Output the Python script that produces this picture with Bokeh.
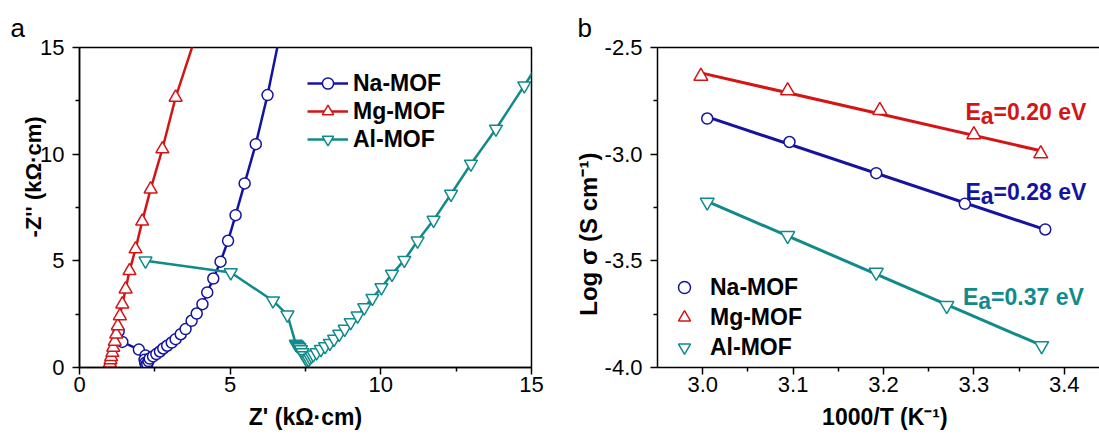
from bokeh.plotting import figure
from bokeh.models import FixedTicker, PrintfTickFormatter, LinearAxis, ColumnDataSource
from bokeh.layouts import row
from bokeh.embed import file_html
from bokeh.resources import INLINE
from bokeh.core.properties import value
import numpy as np

FONT = "Liberation Sans"
NA_C = "#1414A0"
MG_C = "#D41515"
AL_C = "#108A8A"
NB = "\u00a0"

# ---------------- Panel a: Nyquist data (kΩ·cm) ----------------
na_zre = [1.30, 1.42, 1.97, 2.19, 2.16, 2.18, 2.21, 2.25, 2.29, 2.33, 2.44, 2.55, 2.67, 2.78, 2.91,
          3.06, 3.19, 3.36, 3.52, 3.72, 3.89, 4.08, 4.24, 4.44, 4.68, 4.93, 5.18, 5.48, 5.85, 6.24, 6.68]
na_zim = [1.70, 1.20, 0.84, 0.56, 0.36, 0.22, 0.12, 0.16, 0.30, 0.42, 0.52, 0.63, 0.75, 0.89, 1.02,
          1.17, 1.33, 1.56, 1.80, 2.19, 2.53, 2.97, 3.52, 4.17, 4.96, 5.94, 7.14, 8.63, 10.47, 12.77, 15.8]

mg_zre = [0.98, 1.00, 1.01, 1.03, 1.05, 1.09, 1.12, 1.17, 1.22, 1.27, 1.34, 1.42, 1.53, 1.66, 1.86,
          2.08, 2.36, 2.75, 3.19, 3.85]
mg_zim = [0.04, 0.10, 0.20, 0.35, 0.50, 0.70, 0.94, 1.22, 1.56, 1.95, 2.42, 2.97, 3.67, 4.53, 5.55,
          6.85, 8.36, 10.24, 12.66, 15.5]

al_zre = [2.19, 5.02, 6.42, 6.90, 7.18, 7.22, 7.26, 7.30, 7.35, 7.40, 7.46, 7.52, 7.56, 7.60, 7.65,
          7.70, 7.76, 7.87, 8.01, 8.15, 8.31, 8.45, 8.62, 8.80, 9.00, 9.23, 9.45, 9.72, 10.02, 10.37,
          10.78, 11.22, 11.75, 12.33, 12.99, 13.82, 14.76, 15.5]
al_zim = [5.00, 4.45, 3.13, 2.47, 1.10, 1.05, 1.00, 0.94, 0.84, 0.70, 0.56, 0.42, 0.32, 0.38, 0.46,
          0.54, 0.60, 0.70, 0.85, 0.99, 1.14, 1.33, 1.57, 1.80, 2.11, 2.42, 2.81, 3.25, 3.75, 4.38,
          5.03, 5.94, 6.91, 8.13, 9.54, 11.18, 13.21, 14.85]

# ---------------- Panel b: Arrhenius data ----------------
na_invT = [3.005, 3.096, 3.192, 3.290, 3.379]
na_logs = [-2.833, -2.943, -3.089, -3.233, -3.353]
mg_invT = [2.998, 3.094, 3.196, 3.300, 3.374]
mg_logs = [-2.635, -2.702, -2.795, -2.909, -2.998]
al_invT = [3.005, 3.094, 3.192, 3.270, 3.375]
al_logs = [-3.225, -3.382, -3.554, -3.710, -3.898]
ea_values = [0.20, 0.28, 0.37]

labels = ["Na-MOF", "Mg-MOF", "Al-MOF"]


def style_axes(p):
    p.background_fill_color = "white"
    p.border_fill_color = "white"
    p.xgrid.visible = False
    p.ygrid.visible = False
    for ax in (p.xaxis[0], p.yaxis[0]):
        ax.axis_line_width = 1.5
        ax.axis_line_color = "black"
        ax.major_tick_line_width = 1.5
        ax.minor_tick_line_width = 1.5
        ax.major_tick_out = 7
        ax.major_tick_in = 0
        ax.minor_tick_out = 4
        ax.minor_tick_in = 0
        ax.major_label_text_font = FONT
        ax.major_label_text_font_size = "22px"
        ax.major_label_text_color = "black"
        ax.axis_label_text_font = FONT
        ax.axis_label_text_font_style = "bold"
        ax.axis_label_text_color = "black"
    p.xaxis[0].major_label_standoff = 2
    p.xaxis[0].axis_label_standoff = 9
    p.xaxis[0].axis_label_text_font_size = "23px"
    p.yaxis[0].major_label_standoff = 8
    p.yaxis[0].axis_label_text_font_size = "22px"


def style_title(p, text, offset):
    p.title.text = text
    p.title.align = "left"
    p.title.offset = offset
    p.title.text_font = FONT
    p.title.text_font_size = "26px"
    p.title.text_font_style = "normal"
    p.title.text_color = "black"
    p.title.standoff = 10


# ================= Panel a =================
pa = figure(width=570, height=437, x_range=(0, 15), y_range=(0, 15),
            output_backend="svg", toolbar_location=None,
            min_border_left=79, min_border_right=39, min_border_top=47, min_border_bottom=70)
style_axes(pa)
style_title(pa, "a", -69)
pa.outline_line_color = "black"
pa.outline_line_width = 1.5
pa.outline_line_alpha = 1.0
pa.xaxis[0].ticker = FixedTicker(ticks=[0, 5, 10, 15], minor_ticks=[2.5, 7.5, 12.5])
pa.yaxis[0].ticker = FixedTicker(ticks=[0, 5, 10, 15], minor_ticks=[2.5, 7.5, 12.5])
pa.xaxis[0].axis_label = "Z' (kΩ·cm)"
pa.yaxis[0].axis_label = NB * 10 + "-Z'' (kΩ·cm)"
pa.yaxis[0].axis_label_standoff = -9

series_a = [(na_zre, na_zim, NA_C, "circle", 11), (mg_zre, mg_zim, MG_C, "triangle", 13),
            (al_zre, al_zim, AL_C, "inverted_triangle", 13)]
for (xs, ys, c, m, s), lab in zip(series_a, labels):
    pa.line(xs, ys, line_color=c, line_width=2.5, legend_label=lab)
    pa.scatter(xs, ys, marker=m, size=s, fill_color="white", line_color=c, line_width=1.5,
               legend_label=lab)

lg = pa.legend[0]
lg.location = (228, 214)
lg.padding = 0
lg.margin = 0
lg.spacing = 0
lg.border_line_color = None
lg.background_fill_alpha = 0
lg.glyph_width = 41
lg.glyph_height = 28
lg.label_height = 28
lg.label_standoff = 5
lg.label_text_font = FONT
lg.label_text_font_size = "23px"
lg.label_text_font_style = "bold"
lg.label_text_color = "black"

# ================= Panel b =================
pb = figure(width=529, height=437, x_range=(2.95, 3.439), y_range=(-4.0, -2.5),
            output_backend="svg", toolbar_location=None,
            min_border_left=87, min_border_right=0, min_border_top=47, min_border_bottom=70)
style_axes(pb)
style_title(pb, "b", -80)
pb.outline_line_color = None
pb.xaxis[0].ticker = FixedTicker(ticks=[3.0, 3.1, 3.2, 3.3, 3.4],
                                 minor_ticks=[3.05, 3.15, 3.25, 3.35, 3.45])
pb.yaxis[0].ticker = FixedTicker(ticks=[-4.0, -3.5, -3.0, -2.5], minor_ticks=[-3.75, -3.25, -2.75])
pb.xaxis[0].formatter = PrintfTickFormatter(format="%.1f")
pb.yaxis[0].formatter = PrintfTickFormatter(format="%.1f")
pb.xaxis[0].axis_label = NB * 2 + "1000/T (K⁻¹)"
pb.yaxis[0].axis_label = "Log σ (S cm⁻¹)" + NB * 8
pb.yaxis[0].axis_label_text_font_size = "24px"
pb.yaxis[0].axis_label_standoff = 0

top = LinearAxis(axis_line_width=1.5, axis_line_color="black",
                 ticker=FixedTicker(ticks=[]),
                 major_tick_out=0, major_tick_in=0, minor_tick_out=0, minor_tick_in=0,
                 major_label_standoff=0)
pb.add_layout(top, "above")

series_b = [(na_invT, na_logs, NA_C, "circle", 11), (mg_invT, mg_logs, MG_C, "triangle", 14),
            (al_invT, al_logs, AL_C, "inverted_triangle", 14)]
for (xs, ys, c, m, s), lab in zip(series_b, labels):
    k, b0 = np.polyfit(xs, ys, 1)
    fx = [min(xs), max(xs)]
    pb.line(fx, [k * v + b0 for v in fx], line_color=c, line_width=3)
    pb.scatter(xs, ys, marker=m, size=s, fill_color="white", line_color=c, line_width=1.5,
               legend_label=lab)

lb = pb.legend[0]
lb.location = (11, 5)
lb.padding = 0
lb.margin = 0
lb.spacing = 0
lb.border_line_color = None
lb.background_fill_alpha = 0
lb.glyph_width = 32
lb.glyph_height = 30
lb.label_height = 30
lb.label_standoff = 10
lb.label_text_font = FONT
lb.label_text_font_size = "23px"
lb.label_text_font_style = "bold"
lb.label_text_color = "black"

ea_src = ColumnDataSource(dict(
    x=[3.2907, 3.2907, 3.288],
    y=[-2.8025, -3.178, -3.671],
    rest=["=%.2f eV" % e for e in ea_values],
    E=["E"] * 3,
    a=["a"] * 3,
    color=[MG_C, NA_C, AL_C],
))
common = dict(source=ea_src, text_color="color", text_font=value(FONT),
              text_font_size=value("23px"), text_font_style="bold",
              text_align="left", text_baseline="alphabetic")
pb.text(x="x", y="y", text="E", **common)
pb.text(x="x", y="y", text="a", x_offset=15.3, y_offset=4, **common)
pb.text(x="x", y="y", text="rest", x_offset=28.1, **common)

layout = row(pa, pb)
open("out.html", "w").write(file_html(layout, INLINE))
